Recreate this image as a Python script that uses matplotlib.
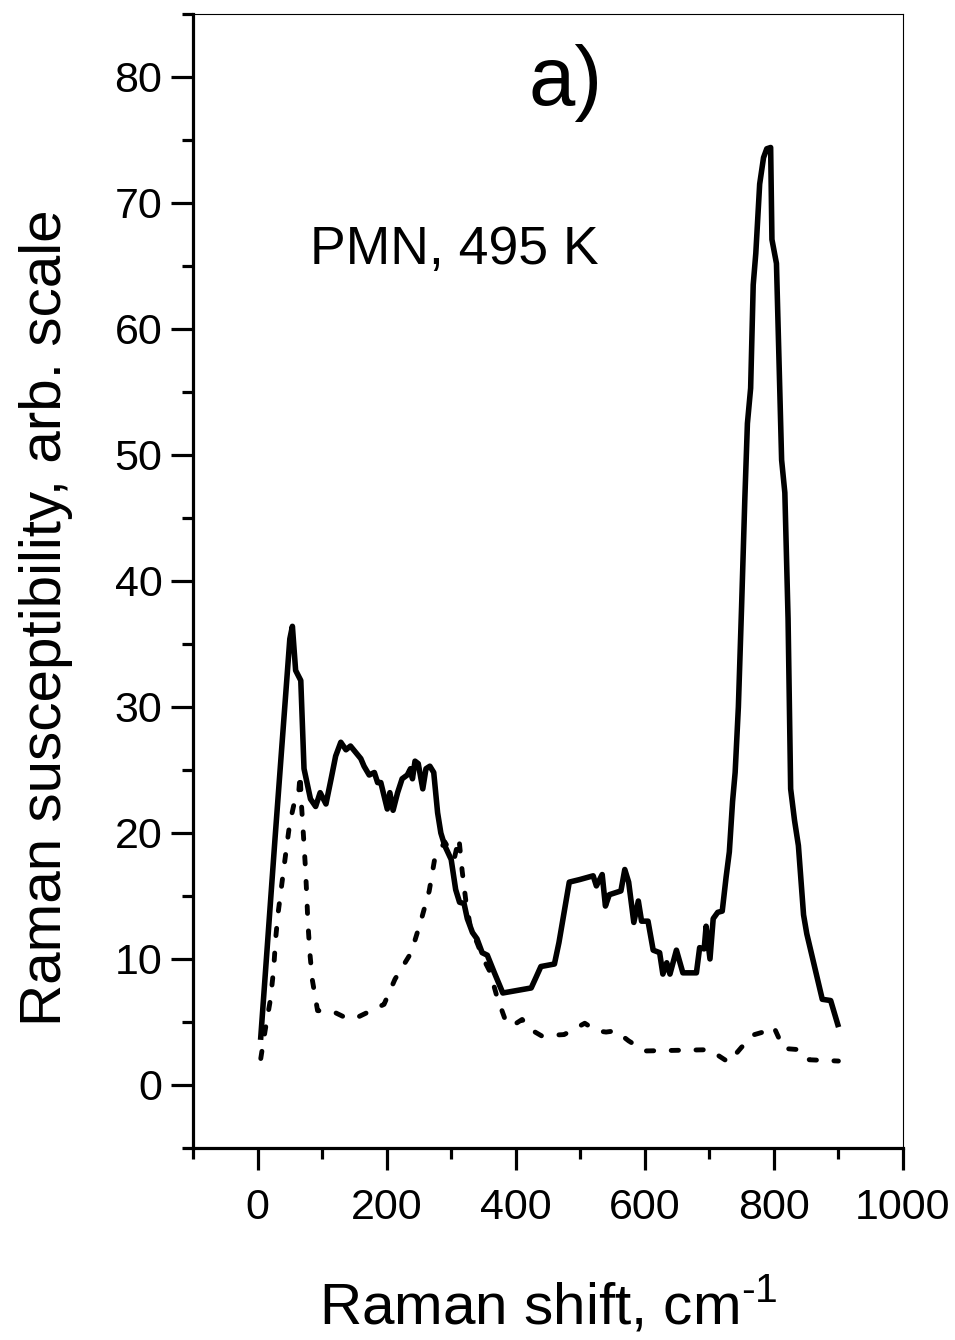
import matplotlib
matplotlib.use("Agg")
import matplotlib.pyplot as plt
from matplotlib.ticker import MultipleLocator

plt.rcParams["font.family"] = ["Liberation Sans", "DejaVu Sans"]
plt.rcParams["mathtext.fontset"] = "custom"
plt.rcParams["mathtext.rm"] = "Liberation Sans"

# ── data ──────────────────────────────────────────────────────────────────────

solid_x = [5, 27, 40, 50, 54, 59, 67, 72, 82, 90, 97, 106, 114, 121, 129, 137,
           144, 152, 160, 165, 173, 181, 186, 191, 201, 205, 210, 217, 224, 232,
           237, 240, 244, 249, 256, 261, 267, 273, 279, 284, 290, 300, 307, 313,
           320, 325, 333, 340, 348, 356, 367, 380, 424, 432, 439, 460, 467, 475,
           483, 499, 520, 525, 534, 539, 545, 563, 569, 575, 583, 590, 595, 605,
           613, 623, 628, 634, 639, 649, 659, 680, 685, 692, 695, 701, 706, 713,
           720, 726, 731, 736, 740, 745, 750, 755, 759, 764, 768, 772, 778, 784,
           789, 795, 797, 804, 812, 817, 822, 826, 832, 838, 846, 851, 875, 888,
           899]
solid_y = [3.8, 19.5, 28.5, 35.4, 36.4, 32.9, 32.1, 25.1, 22.7, 22.1, 23.2, 22.3,
           24.3, 26.1, 27.2, 26.6, 26.9, 26.4, 25.9, 25.3, 24.6, 24.8, 24.0, 24.0,
           21.9, 23.2, 21.8, 23.2, 24.3, 24.6, 25.1, 24.3, 25.7, 25.5, 23.5, 25.1,
           25.3, 24.8, 21.6, 20.0, 19.0, 17.9, 15.5, 14.5, 14.4, 13.2, 12.1, 11.6,
           10.5, 10.3, 8.9, 7.3, 7.7, 8.6, 9.4, 9.6, 11.3, 13.7, 16.1, 16.3, 16.6,
           15.8, 16.7, 14.2, 15.1, 15.4, 17.1, 16.1, 12.9, 14.6, 13.0, 13.0, 10.7,
           10.5, 8.8, 9.7, 8.8, 10.7, 8.9, 8.9, 10.9, 10.8, 12.6, 10.0, 13.2, 13.7,
           13.8, 16.5, 18.5, 22.5, 24.8, 30.0, 38.0, 46.5, 52.5, 55.3, 63.5, 66.0,
           71.5, 73.6, 74.3, 74.4, 67.1, 65.2, 49.6, 47.0, 37.0, 23.5, 21.0, 19.0,
           13.5, 12.0, 6.8, 6.7, 4.8]

dotted_x = [5, 12, 20, 25, 28, 32, 38, 44, 50, 57, 63, 66, 68, 71, 74, 76, 78,
            81, 85, 93, 118, 134, 152, 196, 213, 238, 253, 266, 274, 290, 305,
            312, 317, 323, 330, 340, 350, 360, 371, 385, 395, 410, 420, 440, 475,
            507, 525, 540, 555, 575, 600, 700, 730, 750, 770, 790, 800, 815, 840,
            855, 900]
dotted_y = [2.1, 4.4, 6.8, 9.2, 11.6, 13.7, 16.1, 18.5, 20.8, 22.4, 22.7, 24.7,
            22.3, 19.9, 17.4, 15.3, 12.9, 10.5, 8.3, 5.9, 5.8, 5.4, 5.3, 6.4, 8.4,
            10.5, 13.0, 15.4, 17.8, 19.3, 18.0, 19.6, 17.0, 14.5, 12.5, 11.3, 10.0,
            9.0, 7.0, 5.0, 4.7, 5.2, 4.5, 3.9, 4.0, 4.9, 4.3, 4.2, 4.3, 3.5, 2.7,
            2.8, 1.8, 3.0, 4.0, 4.3, 4.6, 2.9, 2.8, 2.0, 1.9]

x_ticks = [0, 200, 400, 600, 800, 1000]
y_ticks = [0, 10, 20, 30, 40, 50, 60, 70, 80]

# ── figure ────────────────────────────────────────────────────────────────────

fig = plt.figure(figsize=(9.55, 13.4), dpi=100)
ax = fig.add_axes([0.2021, 0.1433, 0.7434, 0.8463])

ax.plot(solid_x, solid_y, color="black", linewidth=4.0, solid_joinstyle="round")
ax.plot(dotted_x, dotted_y, color="black", linewidth=3.5,
        linestyle=(0, (1.5, 3.6)), dash_capstyle="round")

ax.set_xlim(-100, 1000)
ax.set_ylim(-5, 85)
ax.set_xticks(x_ticks)
ax.set_yticks(y_ticks)
ax.xaxis.set_minor_locator(MultipleLocator(100))
ax.yaxis.set_minor_locator(MultipleLocator(5))

ax.tick_params(which="major", direction="out", length=16, width=2.3,
               labelsize=31, top=False, right=False)
ax.tick_params(which="minor", direction="out", length=8, width=2.3,
               top=False, right=False)
ax.tick_params(axis="x", which="major", pad=13)
ax.tick_params(axis="y", which="major", pad=6)

for side in ["left", "bottom"]:
    ax.spines[side].set_linewidth(2.3)
for side in ["top", "right"]:
    ax.spines[side].set_linewidth(0.8)

ax.set_xlabel("Raman shift, cm$^{\\mathregular{\u2010}\\mathregular{1}}$",
              fontsize=42, labelpad=34)
ax.set_ylabel("Raman susceptibility, arb. scale", fontsize=42, labelpad=30)
ax.yaxis.label.set_y(0.468)

ax.text(478, 79.5, "a)", fontsize=60, ha="center", va="center")
ax.text(82, 66.3, "PMN, 495 K", fontsize=38.5, ha="left", va="center")

fig.savefig("out.png", dpi=100)
